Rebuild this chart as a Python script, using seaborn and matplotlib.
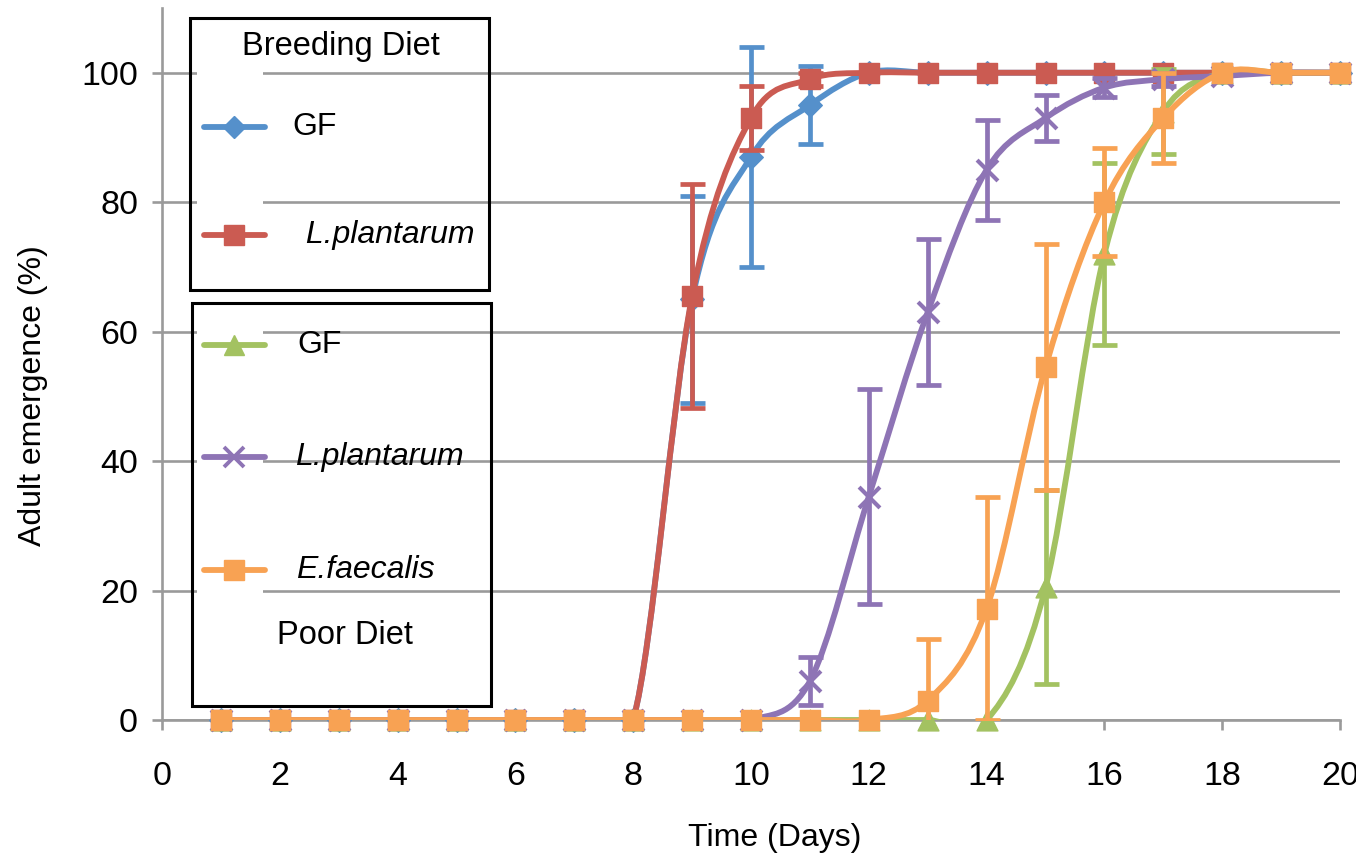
import numpy as np
import pandas as pd
import seaborn as sns
import matplotlib
matplotlib.use("Agg")
import matplotlib.pyplot as plt
from matplotlib.path import Path
from matplotlib.patches import PathPatch, Rectangle
from matplotlib.lines import Line2D

# ---------------- data ----------------
days = list(range(1, 21))

breed_gf = [0, 0, 0, 0, 0, 0, 0, 0, 65, 87, 95, 100, 100, 100, 100, 100, 100, 100, 100, 100]
breed_gf_err = [0, 0, 0, 0, 0, 0, 0, 0, 16, 17, 6, 0, 0, 0, 0, 0, 0, 0, 0, 0]

breed_lp = [0, 0, 0, 0, 0, 0, 0, 0, 65.5, 93, 99, 100, 100, 100, 100, 100, 100, 100, 100, 100]
breed_lp_err = [0, 0, 0, 0, 0, 0, 0, 0, 17.3, 5, 1, 0, 0, 0, 0, 0, 0, 0, 0, 0]

poor_gf = [0, 0, 0, 0, 0, 0, 0, 0, 0, 0, 0, 0, 0, 0, 20.5, 72, 94, 100, 100, 100]
poor_gf_err = [0, 0, 0, 0, 0, 0, 0, 0, 0, 0, 0, 0, 0, 0, 15, 14, 6.5, 0, 0, 0]

poor_lp = [0, 0, 0, 0, 0, 0, 0, 0, 0, 0, 6, 34.5, 63, 85, 93, 97.7, 99, 99.5, 100, 100]
poor_lp_err = [0, 0, 0, 0, 0, 0, 0, 0, 0, 0, 3.7, 16.6, 11.3, 7.7, 3.6, 1.5, 1, 0, 0, 0]

poor_ef = [0, 0, 0, 0, 0, 0, 0, 0, 0, 0, 0, 0, 3, 17.2, 54.5, 80, 93, 100, 100, 100]
poor_ef_err = [0, 0, 0, 0, 0, 0, 0, 0, 0, 0, 0, 0, 9.5, 17.2, 19, 8.3, 7, 0, 0, 0]

series_labels = ["GF", " L.plantarum", "GF", "L.plantarum", "E.faecalis"]
x_ticks = list(range(0, 21, 2))
y_ticks = list(range(0, 101, 20))

# ---------------- style ----------------
sns.set_theme(style="white")
plt.rcParams["font.family"] = ["Liberation Sans", "DejaVu Sans"]

colors = ["#5590CB", "#CB5B52", "#A3C261", "#8E74B5", "#F8A253"]
markers = ["D", "s", "^", "x", "s"]
msizes = [12, 15, 15, 15, 15]

W, H = 1356, 858
fig = plt.figure(figsize=(W / 100, H / 100), dpi=100)
ax = fig.add_axes([162 / W, 1 - 720 / H, 1178 / W, 712 / H])


def smooth_path(x, y):
    n = len(x)
    verts = [(x[0], y[0])]
    codes = [Path.MOVETO]
    for i in range(n - 1):
        p0 = (x[i - 1], y[i - 1]) if i > 0 else (x[i], y[i])
        p1 = (x[i], y[i])
        p2 = (x[i + 1], y[i + 1])
        p3 = (x[i + 2], y[i + 2]) if i + 2 < n else p2
        c1 = (p1[0] + (p2[0] - p0[0]) / 6, p1[1] + (p2[1] - p0[1]) / 6)
        c2 = (p2[0] - (p3[0] - p1[0]) / 6, p2[1] - (p3[1] - p1[1]) / 6)
        verts += [c1, c2, p2]
        codes += [Path.CURVE4] * 3
    return Path(verts, codes)


all_vals = [breed_gf, breed_lp, poor_gf, poor_lp, poor_ef]
all_errs = [breed_gf_err, breed_lp_err, poor_gf_err, poor_lp_err, poor_ef_err]

LW = 4.2
for k, (vals, errs) in enumerate(zip(all_vals, all_errs)):
    z = 3 + k
    c = colors[k]
    patch = PathPatch(smooth_path(days, vals), facecolor="none", edgecolor=c,
                      lw=LW, zorder=z, capstyle="round", joinstyle="round")
    ax.add_patch(patch)
    d = np.array(days, dtype=float)
    v = np.array(vals, dtype=float)
    e = np.array(errs, dtype=float)
    m = e > 0
    if m.any():
        ax.errorbar(d[m], v[m], yerr=e[m], fmt="none", ecolor=c, elinewidth=3.4,
                    capsize=9, capthick=3.4, zorder=z + 0.1)
    df = pd.DataFrame({"day": days, "val": vals})
    if markers[k] == "x":
        sns.scatterplot(data=df, x="day", y="val", marker="x", s=msizes[k] ** 2,
                        color=c, linewidth=3, ax=ax, zorder=z + 0.2,
                        clip_on=False, legend=False)
    else:
        sns.scatterplot(data=df, x="day", y="val", marker=markers[k], s=msizes[k] ** 2,
                        color=c, edgecolor=c, linewidth=1, ax=ax, zorder=z + 0.2,
                        clip_on=False, legend=False)

ax.set_xlim(0, 20)
ax.set_ylim(0, 110)
ax.set_xticks(x_ticks)
ax.set_yticks(y_ticks)
ax.set_xticklabels([str(t) for t in x_ticks])
ax.set_yticklabels([str(t) for t in y_ticks])

grey = "#9A9A9A"
ax.grid(axis="y", color=grey, lw=1.9)
ax.grid(axis="x", visible=False)
ax.set_axisbelow(True)
for s in ["top", "right"]:
    ax.spines[s].set_visible(False)
for s in ["left", "bottom"]:
    ax.spines[s].set_color(grey)
    ax.spines[s].set_linewidth(1.9)
ax.tick_params(axis="both", which="major", direction="out", length=7.2, width=1.9,
               color=grey, labelsize=24.5, labelcolor="black", bottom=True, left=True)
ax.tick_params(axis="x", pad=22)
ax.tick_params(axis="y", pad=10)

ax.set_xlabel("Time (Days)", fontsize=23, color="black")
ax.xaxis.label.set_va("center")
ax.xaxis.set_label_coords((775 - 162) / 1178, -(838 - 720) / 712)
ax.set_ylabel("Adult emergence (%)", fontsize=23, color="black")
ax.yaxis.label.set_va("center")
ax.yaxis.set_label_coords((33 - 162) / 1178, (720 - 396) / 712)


# ---------------- legends (two boxes) ----------------
def fx(px):
    return px / W


def fy(py):
    return 1 - py / H


def box(x0, y0, x1, y1):
    fig.add_artist(Rectangle((fx(197), fy(y1 - 3)), fx(263) - fx(197), fy(y0 + 3) - fy(y1 - 3),
                             transform=fig.transFigure, facecolor="white",
                             edgecolor="none", zorder=5))
    fig.add_artist(Rectangle((fx(x0), fy(y1)), fx(x1) - fx(x0), fy(y0) - fy(y1),
                             transform=fig.transFigure, facecolor="none",
                             edgecolor="black", lw=2.2, zorder=6))


def handle(k, y, tx, label):
    fig.add_artist(Line2D([fx(204), fx(265)], [fy(y), fy(y)], transform=fig.transFigure,
                          color=colors[k], lw=LW, solid_capstyle="round", zorder=7))
    mk = markers[k]
    if mk == "x":
        fig.add_artist(Line2D([fx(234)], [fy(y)], transform=fig.transFigure, marker="x",
                              ms=14, mew=2.8, color=colors[k], zorder=8))
    else:
        fig.add_artist(Line2D([fx(234)], [fy(y)], transform=fig.transFigure, marker=mk,
                              ms=msizes[k] - (1 if mk == "D" else 0), mfc=colors[k],
                              mec=colors[k], color=colors[k], zorder=8))
    style = "normal" if label.strip() == "GF" else "italic"
    fig.text(fx(tx), fy(y), label, ha="left", va="center", fontsize=23,
             style=style, color="black", zorder=8)


box(190, 18, 489, 290)
fig.text(fx(341), fy(47), "Breeding Diet", ha="center", va="center", fontsize=23.5, color="black", zorder=8)
handle(0, 127, 292, series_labels[0])
handle(1, 235, 297, series_labels[1])

box(192, 303, 491, 706)
handle(2, 345, 297, series_labels[2])
handle(3, 457, 295, series_labels[3])
handle(4, 570, 296, series_labels[4])
fig.text(fx(345), fy(635), "Poor Diet", ha="center", va="center", fontsize=23.5, color="black", zorder=8)

fig.savefig("out.png", dpi=100)
